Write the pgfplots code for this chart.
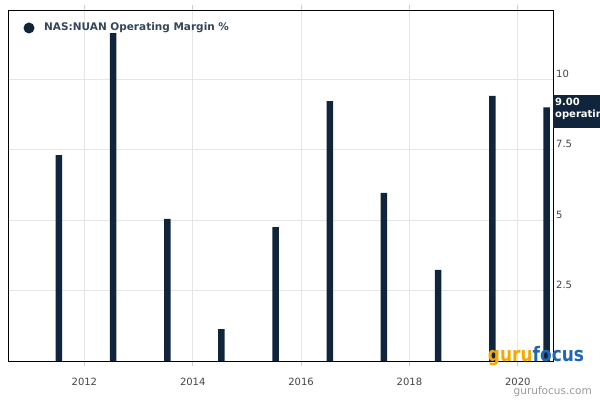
\documentclass[border=0pt]{standalone}
\usepackage{pgfplots}
\pgfplotsset{compat=1.18}
\usepackage{fontspec}
\setmainfont{DejaVu Sans}
\definecolor{barc}{HTML}{10253C}
\definecolor{tickc}{HTML}{444444}
\definecolor{gridc}{HTML}{E6E6E6}
\definecolor{xtickc}{HTML}{C0D0E0}
\definecolor{guruor}{HTML}{F5A800}
\definecolor{gurubl}{HTML}{2266B0}
\begin{document}
\begin{tikzpicture}[x=1pt,y=1pt]
\begin{axis}[
  at={(8pt,39pt)}, anchor=south west,
  scale only axis, width=545pt, height=351pt,
  xmin=2010.59, xmax=2020.65, ymin=0, ymax=12.45,
  axis line style={black, line width=0.8pt},
  /pgf/number format/assume math mode=true,
  /pgf/number format/1000 sep={},
  xtick={2012,2014,2016,2018,2020},
  xtick align=outside,
  major tick length=5pt,
  xtick style={draw=xtickc, line width=0.8pt},
  xticklabel style={font=\fontsize{10}{12}\selectfont, text=tickc, yshift=-9pt},
  ytick={2.5,5,7.5,10},
  yticklabels={2.5,5,7.5,10},
  yticklabel pos=right,
  ytick style={draw=none},
  yticklabel style={font=\fontsize{10}{12}\selectfont, text=tickc, anchor=south west, inner sep=0pt, xshift=3pt, yshift=1.5pt},
  grid=major,
  major grid style={draw=gridc, line width=0.8pt},
  ybar, bar width=0.12,
]
\addplot[fill=barc, draw=none] coordinates {
(2011.53,7.30) (2012.53,11.63) (2013.53,5.04) (2014.53,1.13) (2015.53,4.75)
(2016.53,9.22) (2017.53,5.96) (2018.53,3.23) (2019.53,9.40) (2020.53,9.00)};
\end{axis}
\fill[barc] (29,372) circle (5.5);
\node[anchor=west, inner sep=0pt, text=barc!85!white, font=\bfseries\fontsize{10.5}{13}\selectfont] at (44,372) {NAS:NUAN Operating Margin \%};
\begin{scope}
\clip (553,260) rectangle (600,320);
\fill[barc] (553,272) rectangle (600,305);
\node[anchor=north west, inner sep=0pt, align=left, text=white, font=\bfseries\fontsize{10}{12}\selectfont] at (555,302) {9.00\\operating};
\end{scope}
\node[anchor=center, inner sep=0pt, xscale=0.85, transform shape, font=\bfseries\fontsize{20}{22}\selectfont] at (536,44) {\textcolor{guruor}{guru}\textcolor{gurubl}{focus}};
\node[anchor=east, inner sep=0pt, text=gray!80, font=\fontsize{10.5}{12}\selectfont] at (592,8) {gurufocus.com};
\pgfresetboundingbox
\path[use as bounding box] (0,0) rectangle (600,400);
\end{tikzpicture}
\end{document}
